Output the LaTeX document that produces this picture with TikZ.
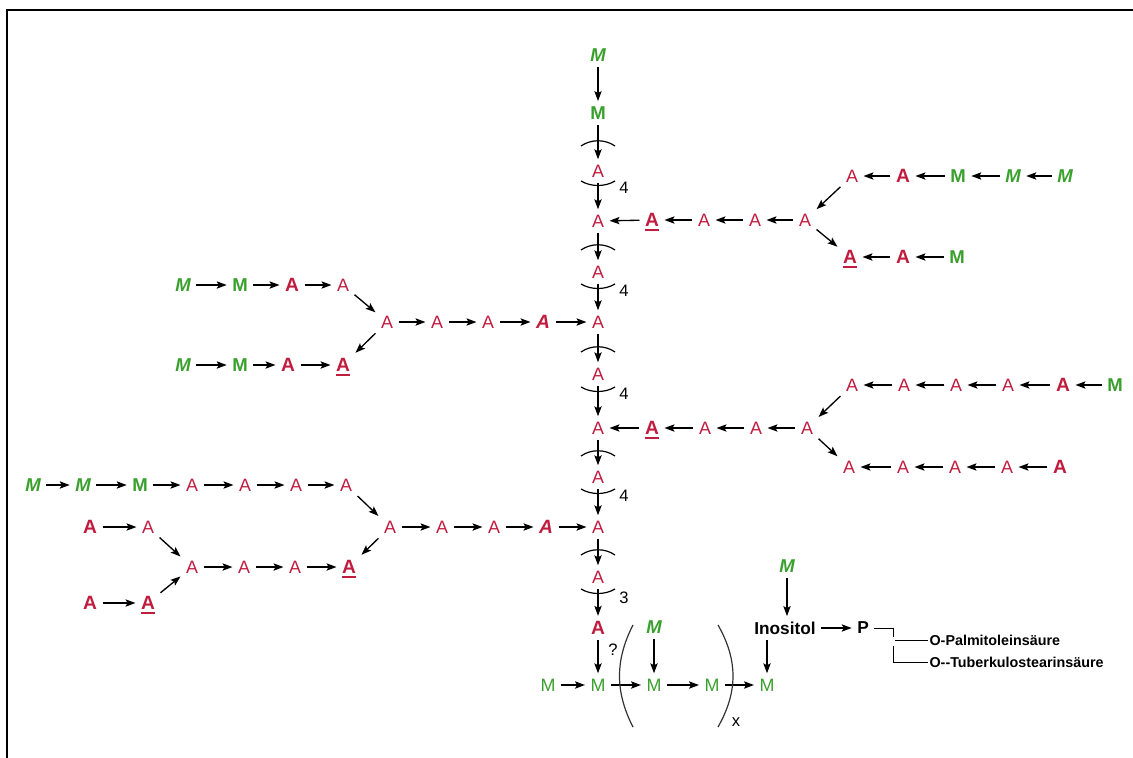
\documentclass[tikz,border=0pt]{standalone}
\usepackage{fontspec}
\setmainfont{Liberation Sans}
\usetikzlibrary{arrows.meta}
\definecolor{mangreen}{RGB}{58,160,45}
\definecolor{arared}{RGB}{192,28,62}
\newcommand\ulin[1]{\setbox0\hbox{#1}\rlap{\smash{\raisebox{-3.4pt}{\rule{\wd0}{1.4pt}}}}#1}

\begin{document}
\begin{tikzpicture}[x=0.0265cm, y=-0.0265cm,
  arr/.style={-{Stealth[length=7.5pt,width=5.5pt,inset=1.5pt]}, line width=1pt},
  sug/.style={inner sep=4pt},
  ara/.style={sug, text=arared, font=\fontsize{13.5}{16}\selectfont},
  arab/.style={sug, text=arared, font=\fontsize{14.5}{17}\selectfont\bfseries},
  arabi/.style={arab, font=\fontsize{14.5}{17}\selectfont\bfseries\itshape},
  man/.style={sug, text=mangreen, font=\fontsize{13.5}{16}\selectfont},
  manb/.style={sug, text=mangreen, font=\fontsize{14}{17}\selectfont\bfseries},
  mani/.style={manb, font=\fontsize{14}{17}\selectfont\bfseries\itshape},
  word/.style={sug, font=\fontsize{13}{15}\selectfont\bfseries},
  cnt/.style={inner sep=1pt, font=\fontsize{12.5}{14}\selectfont},
  lipid/.style={anchor=west, inner sep=1pt, font=\fontsize{10.8}{12}\selectfont\bfseries},
  unitarc/.style={line width=0.9pt},
  paren/.style={line width=0.9pt, black!80}]
\useasboundingbox (0,0) rectangle (1133,758);
% frame
\draw[line width=1.6pt] (7,758) -- (7,10) -- (1133,10);
%
% main chain
\node[mani] (s0) at (598,55) {M};
\node[manb] (s1) at (598,113) {M};
\node[ara] (s2) at (598,171) {A};
\node[ara] (s3) at (598,221) {A};
\node[ara] (s4) at (598,272) {A};
\node[ara] (s5) at (598,322) {A};
\node[ara] (s6) at (598,374) {A};
\node[ara] (s7) at (598,428) {A};
\node[ara] (s8) at (598,477) {A};
\node[ara] (s9) at (598,527) {A};
\node[ara] (s10) at (598,577) {A};
\node[arab] (s11) at (598,628) {A};
\foreach \a/\b in {s0/s1,s1/s2,s2/s3,s3/s4,s4/s5,s5/s6,s6/s7,s7/s8,s8/s9,s9/s10,s10/s11}
  \draw[arr] (\a) -- (\b);
% repeat units
\foreach \y in {142,246,348,452,551}
  \draw[unitarc] (581,\y+4) .. controls (591,\y-3) and (605,\y-3) .. (615,\y+4);
\foreach \y in {184,287,390,492,592}
  \draw[unitarc] (581,\y-3) .. controls (591,\y+3) and (605,\y+3) .. (615,\y-3);
\node[cnt] (n1) at (624,188) {4};
\node[cnt] (n2) at (624,291) {4};
\node[cnt] (n3) at (624,394) {4};
\node[cnt] (n4) at (624,496) {4};
\node[cnt] (n5) at (624,598) {3};
%
% mannan core
\node[man] (m1) at (548,685) {M};
\node[man] (m2) at (598,685) {M};
\node[man] (m3) at (654,685) {M};
\node[man] (m4) at (712,685) {M};
\node[man] (m5) at (767,685) {M};
\foreach \a/\b in {m1/m2,m2/m3,m3/m4,m4/m5}
  \draw[arr] (\a) -- (\b);
\draw[arr] (s11) -- (m2);
\node[cnt] (q) at (613,650) {?};
\node[mani] (m3t) at (654,627) {M};
\draw[arr] (m3t) -- (m3);
\draw[paren] (633,625) .. controls (615,660) and (615,692) .. (633,727);
\draw[paren] (718,625) .. controls (738,660) and (738,692) .. (718,727);
\node[cnt] (xx) at (736,722) {x};
% inositol
\node[word] (ino) at (785,628) {Inositol};
\node[mani] (inot) at (787,566) {M};
\draw[arr] (inot) -- (inot |- ino.north);
\draw[arr] (ino.south -| m5) -- (m5);
\node[word] (p) at (863,628) {P};
\draw[arr] (ino) -- (p);
\node[lipid] (op) at (928,640) {O-Palmitoleinsäure};
\node[lipid] (ot) at (928,662) {O-{}-Tuberkulostearinsäure};
\coordinate (pc1) at (893,628);
\coordinate (pc2) at (893,637);
\coordinate (pc3) at (895,640);
\coordinate (pc4) at (893,646);
\coordinate (pc5) at (893,662);
\draw[line width=0.7pt] (p.east) -- (pc1) -- (pc2);
\draw[line width=0.7pt] (pc3) -- (op.west);
\draw[line width=0.7pt] (pc4) -- (pc5) -- (ot.west);
%
% right branch, top
\node[arab] (rt1) at (652,220) {\ulin{A}};
\node[ara] (rt2) at (704,220) {A};
\node[ara] (rt3) at (755,220) {A};
\node[ara] (rt4) at (805,220) {A};
\node[ara] (rtu1) at (852,176) {A};
\node[arab] (rtu2) at (903,176) {A};
\node[manb] (rtu3) at (958,176) {M};
\node[mani] (rtu4) at (1013,176) {M};
\node[mani] (rtu5) at (1065,176) {M};
\node[arab] (rtl1) at (850,257) {\ulin{A}};
\node[arab] (rtl2) at (903,257) {A};
\node[manb] (rtl3) at (957,257) {M};
\foreach \a/\b in {rtu5/rtu4,rtu4/rtu3,rtu3/rtu2,rtu2/rtu1,rtu1/rt4,rt4/rt3,rt3/rt2,rt2/rt1,rt1/s3,rt4/rtl1,rtl3/rtl2,rtl2/rtl1}
  \draw[arr] (\a) -- (\b);
%
% right branch, middle
\node[arab] (rm1) at (652,428) {\ulin{A}};
\node[ara] (rm2) at (705,428) {A};
\node[ara] (rm3) at (756,428) {A};
\node[ara] (rm4) at (807,428) {A};
\node[ara] (rmu1) at (852,385) {A};
\node[ara] (rmu2) at (904,385) {A};
\node[ara] (rmu3) at (956,385) {A};
\node[ara] (rmu4) at (1008,385) {A};
\node[arab] (rmu5) at (1063,385) {A};
\node[manb] (rmu6) at (1115,385) {M};
\node[ara] (rml1) at (849,467) {A};
\node[ara] (rml2) at (903,467) {A};
\node[ara] (rml3) at (955,467) {A};
\node[ara] (rml4) at (1007,467) {A};
\node[arab] (rml5) at (1060,467) {A};
\foreach \a/\b in {rmu6/rmu5,rmu5/rmu4,rmu4/rmu3,rmu3/rmu2,rmu2/rmu1,rmu1/rm4,rm4/rm3,rm3/rm2,rm2/rm1,rm1/s7,rm4/rml1,rml5/rml4,rml4/rml3,rml3/rml2,rml2/rml1}
  \draw[arr] (\a) -- (\b);
%
% left branch, upper
\node[mani] (lu1) at (183,285) {M};
\node[manb] (lu2) at (240,285) {M};
\node[arab] (lu3) at (292,285) {A};
\node[ara] (lu4) at (343,285) {A};
\node[ara] (lm1) at (387,322) {A};
\node[ara] (lm2) at (437,322) {A};
\node[ara] (lm3) at (488,322) {A};
\node[arabi] (lm4) at (543,322) {A};
\node[mani] (ll1) at (183,365) {M};
\node[manb] (ll2) at (240,365) {M};
\node[arab] (ll3) at (288,365) {A};
\node[arab] (ll4) at (343,365) {\ulin{A}};
\foreach \a/\b in {lu1/lu2,lu2/lu3,lu3/lu4,lu4/lm1,lm1/lm2,lm2/lm3,lm3/lm4,lm4/s5,lm1/ll4,ll1/ll2,ll2/ll3,ll3/ll4}
  \draw[arr] (\a) -- (\b);
%
% left branch, lower
\node[mani] (bu1) at (33,485) {M};
\node[mani] (bu2) at (83,485) {M};
\node[manb] (bu3) at (140,485) {M};
\node[ara] (bu4) at (192,485) {A};
\node[ara] (bu5) at (245,485) {A};
\node[ara] (bu6) at (296,485) {A};
\node[ara] (bu7) at (346,485) {A};
\node[ara] (bm1) at (390,527) {A};
\node[ara] (bm2) at (442,527) {A};
\node[ara] (bm3) at (494,527) {A};
\node[arabi] (bm4) at (546,527) {A};
\node[arab] (bs1) at (90,527) {A};
\node[ara] (bs2) at (148,527) {A};
\node[ara] (bl1) at (192,567) {A};
\node[ara] (bl2) at (244,567) {A};
\node[ara] (bl3) at (295,567) {A};
\node[arab] (bl4) at (349,567) {\ulin{A}};
\node[arab] (bt1) at (90,603) {A};
\node[arab] (bt2) at (148,603) {\ulin{A}};
\foreach \a/\b in {bu1/bu2,bu2/bu3,bu3/bu4,bu4/bu5,bu5/bu6,bu6/bu7,bu7/bm1,bm1/bm2,bm2/bm3,bm3/bm4,bm4/s9,bm1/bl4,bs1/bs2,bs2/bl1,bt1/bt2,bt2/bl1,bl1/bl2,bl2/bl3,bl3/bl4}
  \draw[arr] (\a) -- (\b);
\end{tikzpicture}
\end{document}
